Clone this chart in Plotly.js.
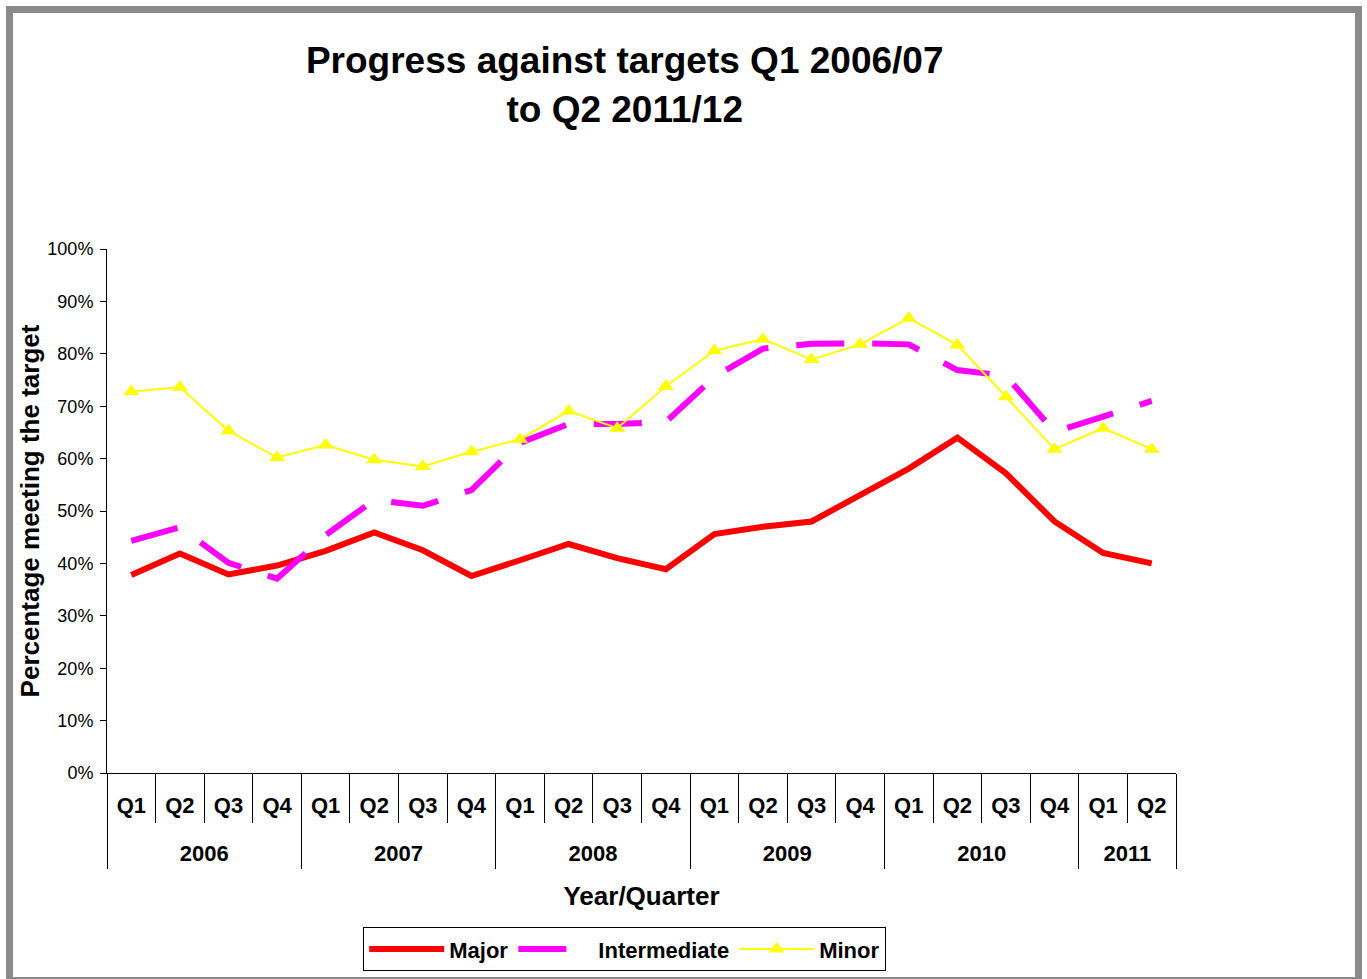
<!DOCTYPE html>
<html>
<head>
<meta charset="utf-8">
<script src="https://cdn.plot.ly/plotly-3.0.1.min.js"></script>
<style>
  body { margin: 0; background: #ffffff; }
  #chart { position: absolute; left: 0; top: 0; width: 1367px; height: 979px; }
  #frame { position: absolute; left: 6px; top: 6px; width: 1356px; height: 978px;
           border: 7px solid #8a8a8a; box-sizing: border-box; pointer-events: none; }
</style>
</head>
<body>
<div id="chart"></div>
<div id="frame"></div>
<script>
// ---- data ----
const years = ["2006","2006","2006","2006","2007","2007","2007","2007",
               "2008","2008","2008","2008","2009","2009","2009","2009",
               "2010","2010","2010","2010","2011","2011"];
const quarters = ["Q1","Q2","Q3","Q4","Q1","Q2","Q3","Q4",
                  "Q1","Q2","Q3","Q4","Q1","Q2","Q3","Q4",
                  "Q1","Q2","Q3","Q4","Q1","Q2"];
const major = [37.8, 41.9, 37.9, 39.6, 42.4, 45.9, 42.5, 37.6,
               40.6, 43.7, 41.0, 38.9, 45.6, 47.0, 48.0, 53.0,
               58.1, 64.0, 57.2, 48.0, 42.0, 40.0];
const intermediate = [44.3, 46.9, 40.1, 37.1, 45.4, 52.1, 51.0, 54.0,
                      63.0, 66.6, 66.6, 67.0, 75.6, 81.0, 81.9, 82.0,
                      81.8, 76.9, 75.8, 65.1, 68.0, 71.0];
const minor = [72.8, 73.6, 65.3, 60.2, 62.6, 59.8, 58.5, 61.3,
               63.7, 69.1, 65.8, 73.8, 80.6, 82.8, 78.9, 81.8,
               86.8, 81.7, 71.8, 61.8, 65.8, 61.8];
const seriesNames = ["Major", "Intermediate", "Minor"];
const yTickVals = [0, 10, 20, 30, 40, 50, 60, 70, 80, 90, 100];
const yTickText = ["0%","10%","20%","30%","40%","50%","60%","70%","80%","90%","100%"];

// ---- derived axis helpers (category index positions) ----
const n = quarters.length;
const qIndex = quarters.map((q, i) => i);
const qBounds = qIndex.map(i => i - 0.5).concat([n - 0.5]);
const yearNames = [...new Set(years)];
const yearCenters = yearNames.map(y => {
  const first = years.indexOf(y), last = years.lastIndexOf(y);
  return (first + last) / 2;
});
const yearBounds = yearNames.map(y => years.indexOf(y) - 0.5).concat([n - 0.5]);

const FONT = "Liberation Sans, Arial, Helvetica, sans-serif";
const xCats = [years, quarters];

const helper = ax => ({ x: [], y: [], xaxis: ax, yaxis: "y", type: "scatter",
                        mode: "lines", showlegend: false, hoverinfo: "skip" });

const traces = [
  { x: xCats, y: major, name: seriesNames[0], type: "scatter", mode: "lines",
    line: { color: "#ff0000", width: 6 } },
  { x: xCats, y: intermediate, name: seriesNames[1], type: "scatter", mode: "lines",
    line: { color: "#ff00ff", width: 6, dash: "48px,28px" } },
  { x: xCats, y: minor, name: seriesNames[2], type: "scatter", mode: "lines+markers",
    line: { color: "#ffff00", width: 2 },
    marker: { symbol: "triangle-up", size: 14, color: "#ffff00" } },
  helper("x2"), helper("x3"), helper("x4"), helper("x5")
];

const overlayBase = {
  overlaying: "x", anchor: "y", side: "bottom",
  range: [-0.5, n - 0.5], tickmode: "array",
  showgrid: false, zeroline: false, showline: false
};
const labelFont = { family: FONT, size: 22, weight: "bold", color: "#000000" };

const layout = {
  width: 1367, height: 979,
  paper_bgcolor: "#ffffff", plot_bgcolor: "#ffffff",
  margin: { l: 107, r: 191, t: 249, b: 206 },
  font: { family: FONT, color: "#000000" },
  showlegend: true,
  title: {
    text: "Progress against targets Q1 2006/07<br>to Q2 2011/12",
    font: { family: FONT, size: 37, weight: "bold", color: "#000000" },
    xref: "container", x: 0.457, xanchor: "center",
    yref: "container", y: 0.925, yanchor: "top"
  },
  xaxis: {
    type: "multicategory",
    range: [-0.5, n - 0.5],
    showline: true, linecolor: "#000000", linewidth: 1,
    ticks: "", showticklabels: false, showdividers: false,
    showgrid: false, zeroline: false,
    title: { text: "Year/Quarter", standoff: 113,
             font: { family: FONT, size: 26, weight: "bold", color: "#000000" } }
  },
  // quarter labels
  xaxis2: Object.assign({}, overlayBase, {
    tickvals: qIndex, ticktext: quarters, ticks: "",
    showticklabels: true, tickfont: labelFont, ticklabelstandoff: 17
  }),
  // quarter separators
  xaxis3: Object.assign({}, overlayBase, {
    tickvals: qBounds, ticks: "outside", ticklen: 49,
    tickcolor: "#000000", tickwidth: 1, showticklabels: false
  }),
  // year labels
  xaxis4: Object.assign({}, overlayBase, {
    tickvals: yearCenters, ticktext: yearNames, ticks: "",
    showticklabels: true, tickfont: labelFont, ticklabelstandoff: 65
  }),
  // year separators
  xaxis5: Object.assign({}, overlayBase, {
    tickvals: yearBounds, ticks: "outside", ticklen: 95,
    tickcolor: "#000000", tickwidth: 1, showticklabels: false
  }),
  yaxis: {
    range: [0, 100],
    tickmode: "array", tickvals: yTickVals, ticktext: yTickText,
    showline: true, linecolor: "#000000", linewidth: 1,
    ticks: "outside", ticklen: 6, tickcolor: "#000000",
    tickfont: { family: FONT, size: 18, color: "#000000" },
    ticklabelstandoff: 3,
    showgrid: false, zeroline: false,
    title: { text: "Percentage meeting the target", standoff: 0,
             font: { family: FONT, size: 26, weight: "bold", color: "#000000" } }
  },
  legend: {
    orientation: "h",
    xref: "container", x: 0.457, xanchor: "center",
    yref: "container", y: 0.053, yanchor: "top",
    bordercolor: "#000000", borderwidth: 1, bgcolor: "#ffffff",
    font: { family: FONT, size: 22, weight: "bold", color: "#000000" },
    itemwidth: 75,
    traceorder: "normal"
  }
};

Plotly.newPlot("chart", traces, layout, { displayModeBar: false, responsive: false });
</script>
</body>
</html>
